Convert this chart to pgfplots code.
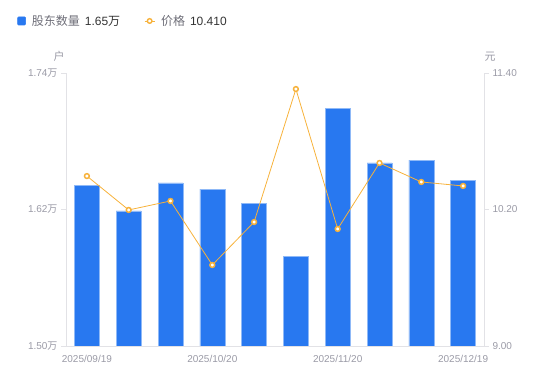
\documentclass[border=0pt]{standalone}
\usepackage{pgfplots}
\pgfplotsset{compat=1.18}
\usepackage{fontspec}
\setmainfont{Liberation Sans}
\newfontfamily\cjk{Noto Sans CJK SC}
\definecolor{barblue}{HTML}{2878F0}
\definecolor{baredge}{HTML}{8FB9F7}
\definecolor{lineorange}{HTML}{F7B23B}
\definecolor{axisgray}{HTML}{E2E2E6}
\definecolor{ticktext}{HTML}{9A9AA6}
\definecolor{legtext}{HTML}{6E6E78}
\definecolor{legval}{HTML}{333333}
\begin{document}
\begin{tikzpicture}
\useasboundingbox (0pt,0pt) rectangle (550pt,381pt);
\begin{axis}[
  at={(66pt,35pt)}, anchor=south west,
  width=418pt, height=273pt, scale only axis,
  xmin=-0.5, xmax=9.5, ymin=1.50, ymax=1.74,
  axis x line*=bottom, axis y line*=left,
  axis line style={draw=axisgray, line width=0.8pt},
  xtick={0,3,6,9},
  xticklabels={2025/09/19,2025/10/20,2025/11/20,2025/12/19},
  ytick={1.50,1.62,1.74},
  yticklabels={1.50{\cjk 万},1.62{\cjk 万},1.74{\cjk 万}},
  tick label style={font=\fontsize{10}{12}\selectfont, text=ticktext},
  xtick style={draw=none},
  ytick style={draw=axisgray, line width=0.8pt},
  tick align=outside, major tick length=5pt,
  xticklabel style={yshift=-1pt},
  ylabel={\cjk 户},
  every axis y label/.style={at={(rel axis cs:0,1)}, anchor=south, xshift=-7pt, yshift=8pt, font=\fontsize{11}{13}\selectfont, text=ticktext},
  legend style={at={(-0.117,1.22)}, anchor=north west, draw=none, fill=none,
    font=\fontsize{12}{14}\selectfont, text=legtext, legend columns=-1,
    /tikz/every even column/.append style={column sep=22pt},
    inner sep=0pt, nodes={inner sep=2pt}},
  legend cell align=left,
]
\addplot[ybar, bar width=25pt, bar shift=0pt, fill=barblue, draw=baredge, line width=0.6pt,
  area legend,
  legend image code/.code={\fill[barblue, rounded corners=1pt] (0pt,-4pt) rectangle (8pt,4pt);}]
coordinates {(0,1.6415) (1,1.6187) (2,1.6433) (3,1.6380) (4,1.6257) (5,1.5791) (6,1.7092) (7,1.6609) (8,1.6635) (9,1.6459)};
\addlegendentry{\hspace{4pt}{\cjk 股东数量}\hspace{5pt}{\color{legval}1.65{\cjk 万}}}
\addlegendimage{lineorange, line width=0.8pt,
  legend image code/.code={\draw[lineorange, line width=0.8pt] (0pt,0pt) -- (10pt,0pt);
    \draw[lineorange, fill=white, line width=1.4pt] (5pt,0pt) circle (2.3pt);}}
\addlegendentry{\hspace{4pt}{\cjk 价格}\hspace{5pt}{\color{legval}10.410}}
\end{axis}
\begin{axis}[
  at={(66pt,35pt)}, anchor=south west,
  width=418pt, height=273pt, scale only axis,
  xmin=-0.5, xmax=9.5, ymin=9.00, ymax=11.40,
  axis x line=none, axis y line*=right,
  axis line style={draw=axisgray, line width=0.8pt},
  ytick={9.00,10.20,11.40},
  yticklabels={9.00,10.20,11.40},
  tick label style={font=\fontsize{10}{12}\selectfont, text=ticktext},
  ytick style={draw=axisgray, line width=0.8pt},
  tick align=outside, major tick length=5pt,
  ylabel={\cjk 元},
  every axis y label/.style={at={(rel axis cs:1,1)}, anchor=south, xshift=6pt, yshift=8pt, font=\fontsize{11}{13}\selectfont, text=ticktext},
]
\addplot[lineorange, line width=0.8pt, mark=*, mark size=2.4pt,
  mark options={fill=white, draw=lineorange, line width=1.5pt}]
coordinates {(0,10.494) (1,10.196) (2,10.275) (3,9.712) (4,10.090) (5,11.259) (6,10.029) (7,10.609) (8,10.442) (9,10.407)};
\end{axis}
\end{tikzpicture}
\end{document}
